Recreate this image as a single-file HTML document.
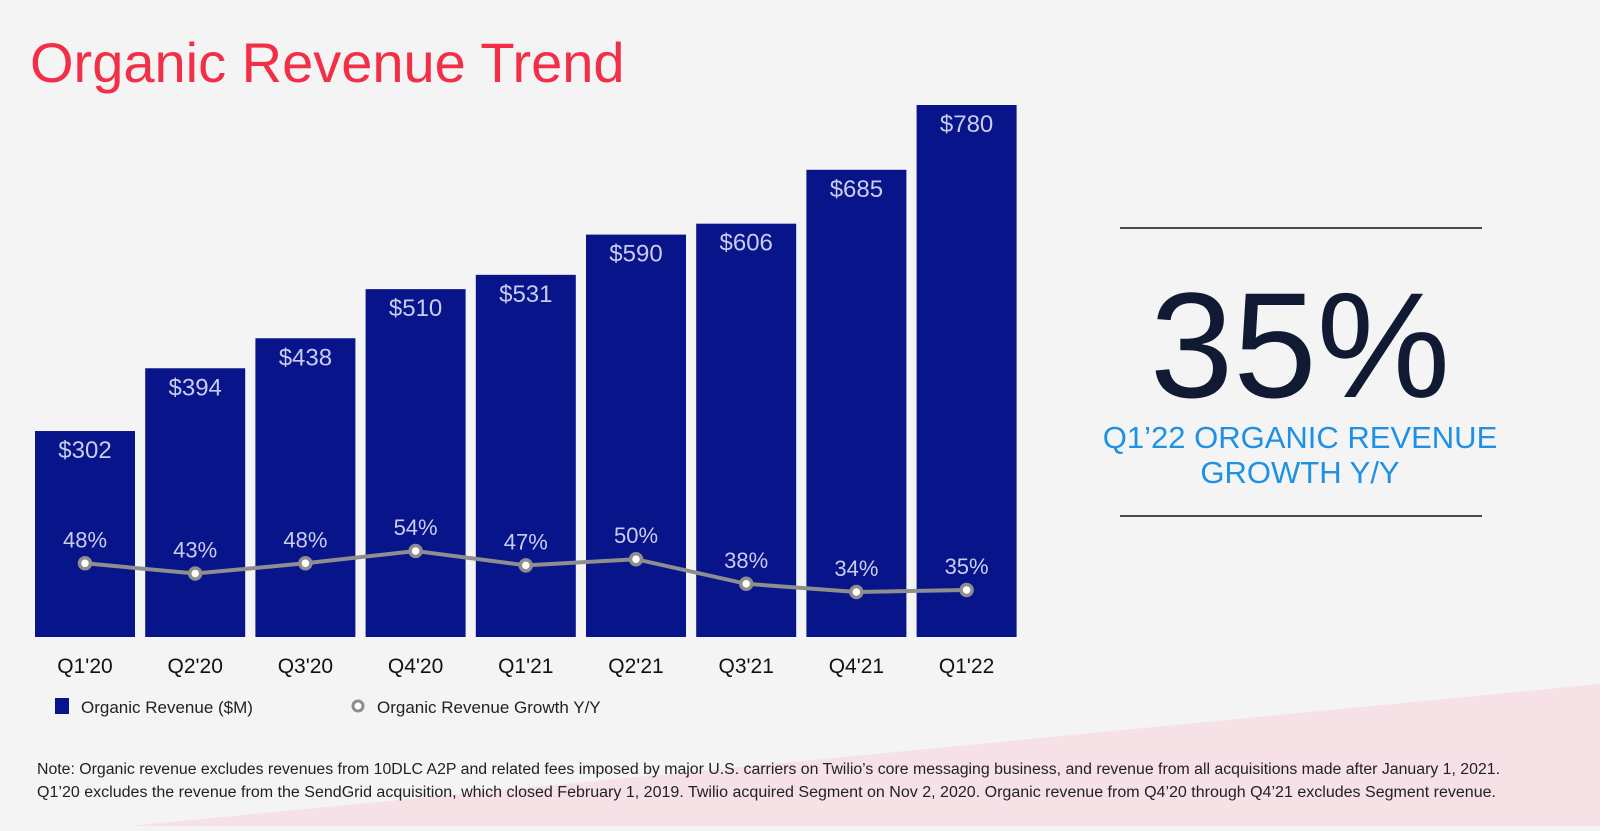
<!DOCTYPE html>
<html><head><meta charset="utf-8"><style>
body{margin:0;width:1600px;height:826px;background:#f4f4f4;overflow:hidden;font-family:"Liberation Sans",sans-serif;}
</style></head><body>
<svg width="1600" height="826" viewBox="0 0 1600 826" xmlns="http://www.w3.org/2000/svg">
<polygon points="130,826 1600,684 1600,826" fill="#f6e1e6"/>
<text x="30" y="82" font-size="56" fill="#f22f46">Organic Revenue Trend</text>
<g id="bars"></g>
<g id="line"></g>
<g id="xlabels"></g>
<rect x="55" y="698" width="14" height="16" fill="#08148a"/>
<text x="81" y="713" font-size="17" fill="#222">Organic Revenue ($M)</text>
<circle cx="358" cy="706" r="5" fill="#fff" stroke="#8e8e8e" stroke-width="3"/>
<text x="377" y="713" font-size="17" fill="#222">Organic Revenue Growth Y/Y</text>
<line x1="1120" y1="228" x2="1482" y2="228" stroke="#111" stroke-width="1.5"/>
<text x="1300" y="397" font-size="150" fill="#111a33" text-anchor="middle">35%</text>
<text x="1300" y="448" font-size="31" fill="#1e90e6" text-anchor="middle">Q1’22 ORGANIC REVENUE</text>
<text x="1300" y="483" font-size="31" fill="#1e90e6" text-anchor="middle">GROWTH Y/Y</text>
<line x1="1120" y1="516" x2="1482" y2="516" stroke="#111" stroke-width="1.5"/>
<text x="37" y="774" font-size="15.5" fill="#222" textLength="1463" lengthAdjust="spacingAndGlyphs">Note: Organic revenue excludes revenues from 10DLC A2P and related fees imposed by major U.S. carriers on Twilio’s core messaging business, and revenue from all acquisitions made after January 1, 2021.</text>
<text x="37" y="797" font-size="15.5" fill="#222" textLength="1459" lengthAdjust="spacingAndGlyphs">Q1’20 excludes the revenue from the SendGrid acquisition, which closed February 1, 2019. Twilio acquired Segment on Nov 2, 2020. Organic revenue from Q4’20 through Q4’21 excludes Segment revenue.</text>
</svg>
<script>
const categories=["Q1'20","Q2'20","Q3'20","Q4'20","Q1'21","Q2'21","Q3'21","Q4'21","Q1'22"];
const revenue=[302,394,438,510,531,590,606,685,780];
const growth=[48,43,48,54,47,50,38,34,35];
const NS="http://www.w3.org/2000/svg";
const base=637, pxPer=532/780;
const xLeft=i=>35+i*110.2, bw=100;
const yRev=v=>base-v*pxPer;
const yG=v=>551+(54-v)*2.05;
function mk(t,a,p){const e=document.createElementNS(NS,t);for(const k in a)e.setAttribute(k,a[k]);p.appendChild(e);return e;}
const bars=document.getElementById('bars'),line=document.getElementById('line'),xl=document.getElementById('xlabels');
categories.forEach((c,i)=>{
 const r=mk('rect',{x:xLeft(i),y:yRev(revenue[i]),width:bw,height:base-yRev(revenue[i]),fill:'#08148a'},bars);
 
 
 const t=mk('text',{x:xLeft(i)+bw/2,y:yRev(revenue[i])+27,'font-size':24,fill:'#c9cdf0','text-anchor':'middle'},bars);
 t.textContent='$'+revenue[i];
 
 
 const x=mk('text',{x:xLeft(i)+bw/2,y:673,'font-size':21,fill:'#111','text-anchor':'middle'},xl);
 x.textContent=c;
 
 
});
const pts=growth.map((g,i)=>(xLeft(i)+bw/2)+','+yG(g)).join(' ');
const pl=mk('polyline',{points:pts,fill:'none',stroke:'#8e8e8e','stroke-width':4},line);


growth.forEach((g,i)=>{
 const cx=xLeft(i)+bw/2,cy=yG(g);
 const m=mk('circle',{cx:cx,cy:cy,r:5.5,fill:'#fff',stroke:'#8e8e8e','stroke-width':3.5},line);
 
 
 const t=mk('text',{x:cx,y:cy-16,'font-size':22,fill:'#c9cdf0','text-anchor':'middle'},line);
 t.textContent=g+'%';
 
 
});
</script>
</body></html>
